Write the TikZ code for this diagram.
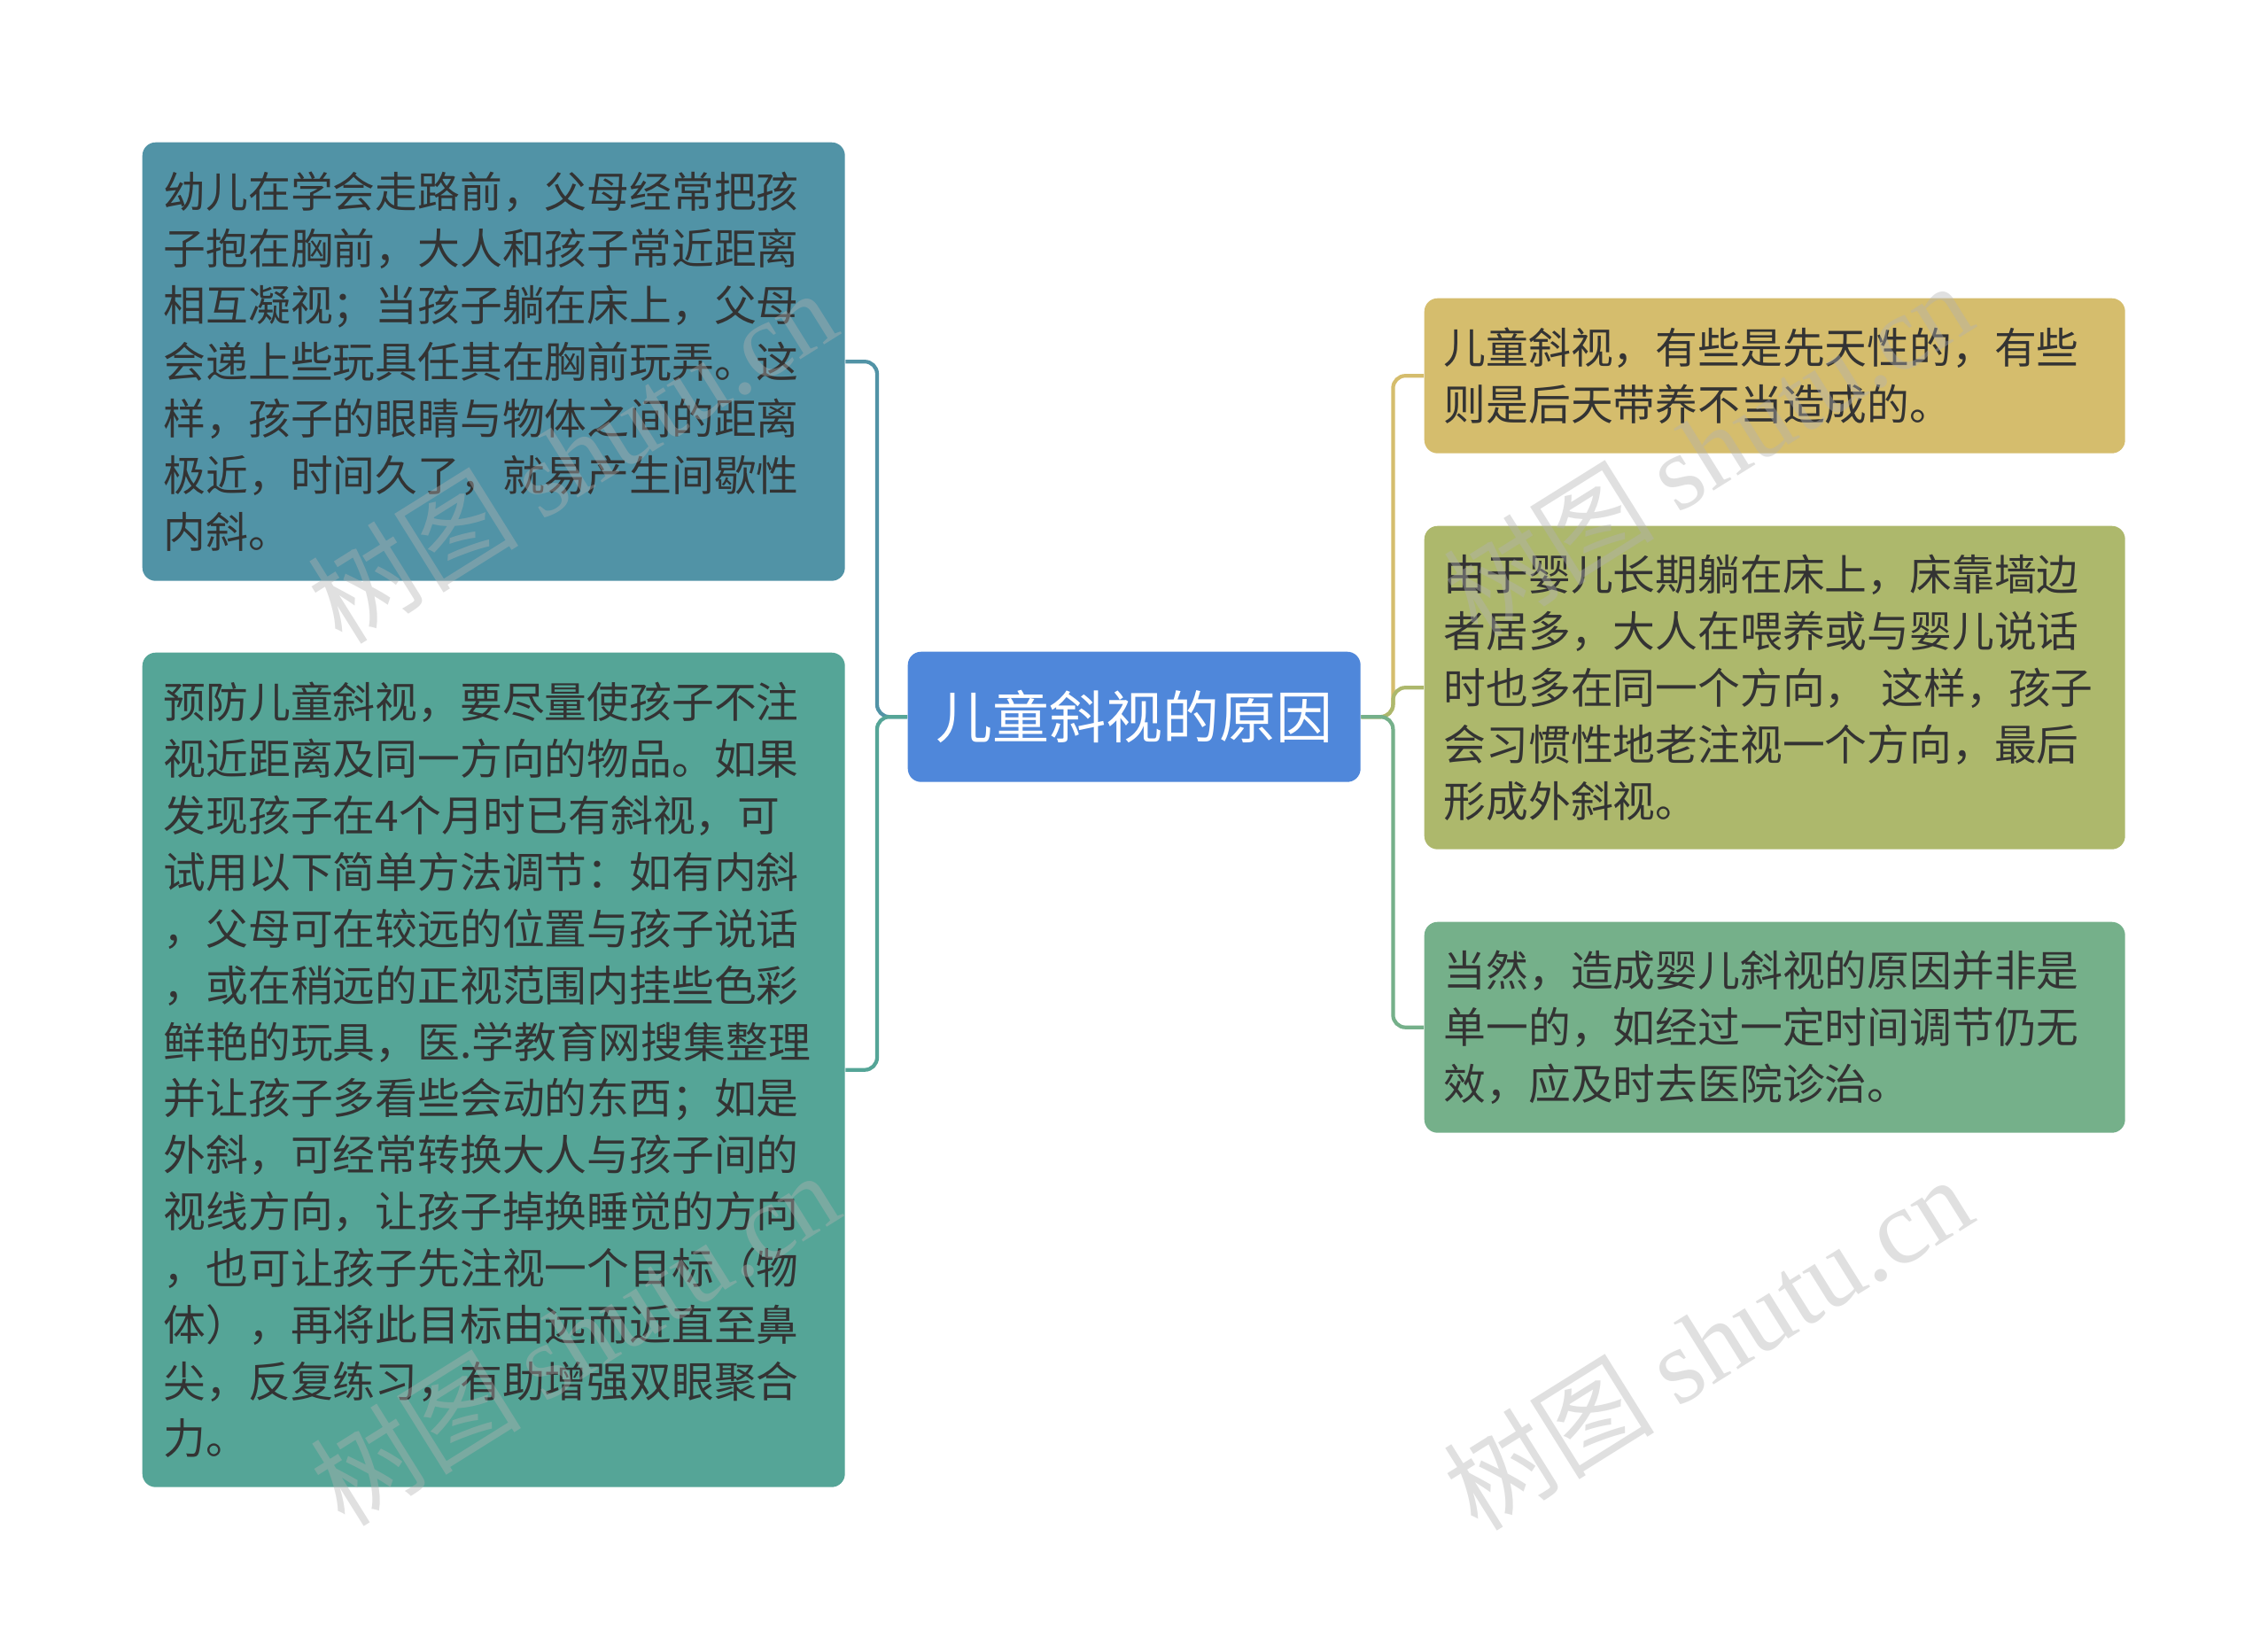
\documentclass[tikz,border=0pt]{standalone}
\usepackage{fontspec}
\setmainfont{Noto Sans CJK SC}
\newfontfamily\wmfont{Liberation Serif}

\definecolor{hintergrund}{HTML}{FFFFFF}
\definecolor{textgrau}{HTML}{333333}
\definecolor{mittefarbe}{HTML}{4F87DA}
\definecolor{linksoben}{HTML}{5193A6}
\definecolor{linksunten}{HTML}{55A597}
\definecolor{rechtseins}{HTML}{D5BD6D}
\definecolor{rechtszwei}{HTML}{ADB86C}
\definecolor{rechtsdrei}{HTML}{75B08A}

\begin{document}
\begin{tikzpicture}[x=0.1mm,y=-0.1mm,
	kasten/.style={rounded corners=1.5mm,inner xsep=2.4mm,inner ysep=0pt,
		align=left,text=textgrau,anchor=north west,
		font=\fontsize{13.6pt}{18.2pt}\selectfont},
	ast/.style={line width=1.2pt,rounded corners=1.4mm},
	wasserzeichen/.style={rotate=32,text=gray!60,opacity=0.4,
		font=\fontsize{34pt}{34pt}\selectfont}]

\def\bildbreite{2560}
\def\bildhoehe{1840}

\useasboundingbox[fill=hintergrund] (0,0) rectangle ({\bildbreite},{\bildhoehe});

% Mitte
\node at (1024,735)
	[kasten,fill=mittefarbe,text=white,align=center,inner xsep=0pt,
	text width=51.1mm,minimum height=14.7mm,
	font=\fontsize{18.2pt}{18.2pt}\selectfont]
	(mitte) {儿童斜视的原因};

% linke Seite
\node at (160,160)
	[kasten,fill=linksoben,text width=74.5mm,minimum height=49.5mm]
	(l1) {幼儿在学会走路前，父母经常把孩\\
	子抱在胸前，大人和孩子常近距离\\
	相互凝视；当孩子躺在床上，父母\\
	会递上些玩具任其在胸前玩弄。这\\
	样，孩子的眼睛与物体之间的距离\\
	极近，时间久了，就易产生间歇性\\
	内斜。};

\node at (160,736)
	[kasten,fill=linksunten,text width=74.5mm,minimum height=94.2mm]
	(l2) {预防儿童斜视，要尽量使孩子不注\\
	视近距离及同一方向的物品。如果\\
	发现孩子在4个月时已有斜视，可\\
	试用以下简单方法调节：如有内斜\\
	，父母可在较远的位置与孩子说话\\
	，或在稍远的正视范围内挂些色彩\\
	鲜艳的玩具，医.学教育网搜集整理\\
	并让孩子多看些会动的东西；如是\\
	外斜，可经常转换大人与孩子间的\\
	视线方向，让孩子掉换睡觉的方向\\
	，也可让孩子先注视一个目标（物\\
	体），再将此目标由远而近直至鼻\\
	尖，反复练习，有助增强双眼聚合\\
	力。};

% rechte Seite
\node at (1607,336)
	[kasten,fill=rechtseins,inner xsep=2.2mm,text width=74.7mm,minimum height=17.5mm]
	(r1) {儿童斜视，有些是先天性的，有些\\
	则是后天带养不当造成的。};

\node at (1607,593)
	[kasten,fill=rechtszwei,inner xsep=2.2mm,text width=74.7mm,minimum height=36.5mm]
	(r2) {由于婴儿长期躺在床上，床靠墙边\\
	者居多，大人在喂养或与婴儿说话\\
	时也多在同一个方向， 这样，孩子\\
	会习惯性地老注视一个方向，最后\\
	形成外斜视。};

\node at (1607,1040)
	[kasten,fill=rechtsdrei,inner xsep=2.2mm,text width=74.7mm,minimum height=23.8mm]
	(r3) {当然，造成婴儿斜视的原因并非是\\
	单一的，如经过一定时间调节仍无\\
	效，应及时去医院诊治。};

% Verbindungen
\draw[ast,draw=linksoben] (mitte.west) -- ++(-34,0) |- (l1.east);
\draw[ast,draw=linksunten] (mitte.west) -- ++(-34,0) |- (l2.east);
\draw[ast,draw=rechtseins] (mitte.east) -- ++(36,0) |- (r1.west);
\draw[ast,draw=rechtszwei] (mitte.east) -- ++(36,0) |- (r2.west);
\draw[ast,draw=rechtsdrei] (mitte.east) -- ++(36,0) |- (r3.west);

% Wasserzeichen
\node at (645,514) [wasserzeichen] (wz1) {树图 {\wmfont shutu.cn}};
\node at (1927,506) [wasserzeichen] (wz2) {树图 {\wmfont shutu.cn}};
\node at (648,1510) [wasserzeichen] (wz3) {树图 {\wmfont shutu.cn}};
\node at (1927,1515) [wasserzeichen] (wz4) {树图 {\wmfont shutu.cn}};

\end{tikzpicture}
\end{document}
